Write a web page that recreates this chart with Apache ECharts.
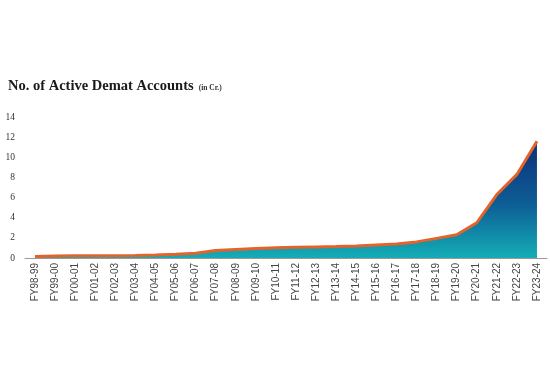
<!DOCTYPE html>
<html><head><meta charset="utf-8">
<script src="https://cdn.jsdelivr.net/npm/echarts@6/dist/echarts.min.js"></script>
<style>html,body{margin:0;padding:0;background:#fff}#c{width:550px;height:366px}</style>
</head><body><div id="c"></div>
<script>
var categories = ["FY98-99","FY99-00","FY00-01","FY01-02","FY02-03","FY03-04","FY04-05","FY05-06","FY06-07","FY07-08","FY08-09","FY09-10","FY10-11","FY11-12","FY12-13","FY13-14","FY14-15","FY15-16","FY16-17","FY17-18","FY18-19","FY19-20","FY20-21","FY21-22","FY22-23","FY23-24"];
var accounts = [0.15,0.2,0.22,0.22,0.22,0.25,0.3,0.38,0.47,0.75,0.85,0.95,1.02,1.07,1.1,1.13,1.2,1.29,1.38,1.6,1.95,2.3,3.5,6.3,8.3,11.6];
var yTicks = {min:0, max:14, interval:2};

var chart = echarts.init(document.getElementById('c'));
chart.setOption({
  animation:false,
  title:{
    text:'{a|No. of Active Demat Accounts} {b|(in Cr.)}',
    left:3, top:72,
    textStyle:{rich:{
      a:{fontFamily:'Liberation Serif',fontWeight:'bold',fontSize:14.5,color:'#1a1a1a'},
      b:{fontFamily:'Liberation Serif',fontSize:7.5,color:'#333',padding:[4,0,0,0]}
    }}
  },
  grid:{left:25,right:3,top:117,bottom:108},
  xAxis:{
    type:'category', data:categories, boundaryGap:true,
    axisLine:{lineStyle:{color:'#9a9a9a',width:1}},
    axisTick:{show:false},
    axisLabel:{rotate:90,interval:0,fontSize:10,color:'#444',fontFamily:'Liberation Sans',margin:5}
  },
  yAxis:{
    type:'value', min:yTicks.min, max:yTicks.max, interval:yTicks.interval,
    axisLine:{show:false}, axisTick:{show:false}, splitLine:{show:false},
    axisLabel:{fontSize:9.5,color:'#333',fontFamily:'Liberation Serif',margin:10}
  },
  series:[{
    type:'line', data:accounts, symbol:'none', smooth:false,
    lineStyle:{color:'#e2642a',width:3},
    areaStyle:{opacity:1,color:new echarts.graphic.LinearGradient(0,0,0,1,[
      {offset:0,color:'#0c2f78'},{offset:0.55,color:'#0d5f96'},{offset:1,color:'#14adb6'}])}
  }]
});
</script></body></html>
